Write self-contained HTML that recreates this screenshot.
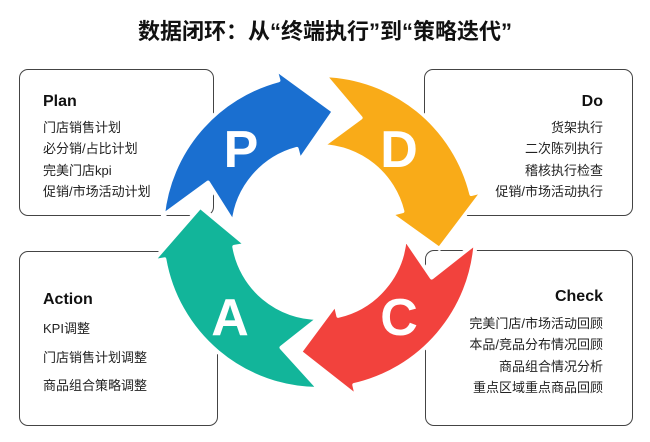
<!DOCTYPE html>
<html><head><meta charset="utf-8"><style>
body{margin:0;width:650px;height:442px;background:#fff;position:relative;overflow:hidden;font-family:"Liberation Sans","Noto Sans CJK SC",sans-serif;color:#222}
.box{position:absolute;border:1.5px solid #444;border-radius:9px;background:#fff;box-sizing:border-box}
.t{position:absolute;font-size:13px;white-space:nowrap;line-height:1}
.h{position:absolute;font-size:16px;font-weight:bold;line-height:1;color:#111}
.r{text-align:right}
h1{position:absolute;margin:0;top:14px;left:0;width:650px;text-align:center;font-size:22px;font-weight:bold;color:#111;font-family:"Liberation Sans","Noto Sans CJK SC",sans-serif}
svg{position:absolute;left:0;top:0}
</style></head><body>
<h1>数据闭环：从“终端执行”到“策略迭代”</h1>
<div class="box" style="left:19px;top:69px;width:195px;height:147px"></div>
<div class="box" style="left:19px;top:251px;width:199px;height:175px"></div>
<div class="box" style="left:424px;top:69px;width:209px;height:147px"></div>
<div class="box" style="left:425px;top:250px;width:208px;height:176px"></div>

<div class="h" style="left:43px;top:94px">Plan</div>
<div class="t" style="left:43px;top:121px">门店销售计划</div>
<div class="t" style="left:43px;top:142px">必分销/占比计划</div>
<div class="t" style="left:43px;top:164px">完美门店kpi</div>
<div class="t" style="left:43px;top:185px">促销/市场活动计划</div>

<div class="h" style="left:43px;top:292px">Action</div>
<div class="t" style="left:43px;top:322px">KPI调整</div>
<div class="t" style="left:43px;top:351px">门店销售计划调整</div>
<div class="t" style="left:43px;top:379px">商品组合策略调整</div>

<div class="h r" style="right:47px;top:94px">Do</div>
<div class="t r" style="right:47px;top:121px">货架执行</div>
<div class="t r" style="right:47px;top:142px">二次陈列执行</div>
<div class="t r" style="right:47px;top:164px">稽核执行检查</div>
<div class="t r" style="right:47px;top:185px">促销/市场活动执行</div>

<div class="h r" style="right:47px;top:289px">Check</div>
<div class="t r" style="right:47px;top:317px">完美门店/市场活动回顾</div>
<div class="t r" style="right:47px;top:338px">本品/竞品分布情况回顾</div>
<div class="t r" style="right:47px;top:360px">商品组合情况分析</div>
<div class="t r" style="right:47px;top:381px">重点区域重点商品回顾</div>

<svg width="650" height="442" id="s">
<g id="g"></g>
<g font-family="Liberation Sans,sans-serif" font-weight="bold" font-size="52" fill="#fff" text-anchor="middle">
<text x="241" y="167">P</text>
<text x="399" y="167">D</text>
<text x="399" y="335">C</text>
<text x="230" y="335">A</text>
</g>
</svg>
<script>
var cx=319,cy=232,R=157,r=86,m=(R+r)/2,H=22,W=12;
function p(a,rad){a=a*Math.PI/180;return (cx+rad*Math.cos(a)).toFixed(1)+","+(cy+rad*Math.sin(a)).toFixed(1);}
var arrows=[[186,277,"#1a6fd0"],[272,368,"#f9ab18"],[4,99,"#f2423d"],[90,192,"#12b59a"]];
var out="";
arrows.forEach(function(a){
 var t=a[0],e=a[1],b=e-H;
 var d="M"+p(t,R)+" A"+R+","+R+" 0 0 1 "+p(b,R)+" L"+p(b,R+W)+" L"+p(e,m)+" L"+p(b,r-W)+" L"+p(b,r)+
 " A"+r+","+r+" 0 0 0 "+p(t,r)+" L"+p(t+H-4,m)+" Z";
 out+='<path d="'+d+'" fill="'+a[2]+'" stroke="#fff" stroke-width="4" stroke-linejoin="round"/>';
});
document.getElementById("g").innerHTML=out;
</script>
</body></html>
